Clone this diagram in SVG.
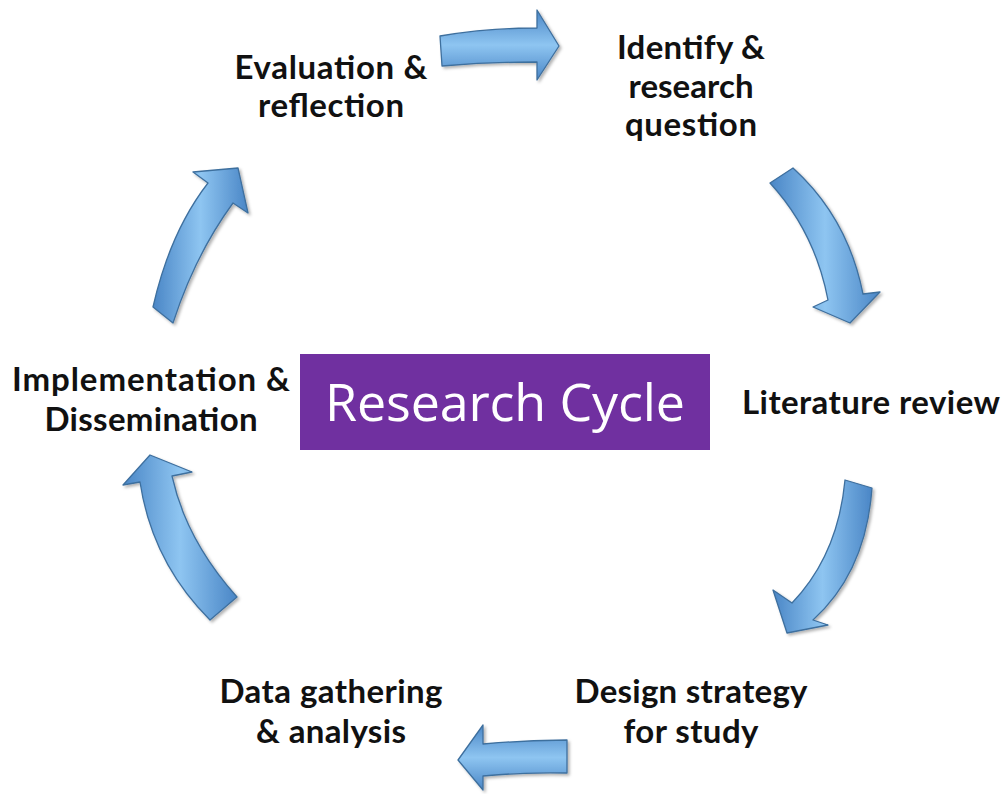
<svg xmlns="http://www.w3.org/2000/svg" width="1004" height="794" viewBox="0 0 1004 794">
<style>
.lbl{font-family:Lato,"Liberation Sans",sans-serif;font-weight:bold;font-size:33px;fill:#111;text-anchor:middle}
.arr{stroke:#3E6F9E;stroke-width:1.3;stroke-linejoin:round}
.title{font-family:"Open Sans","Liberation Sans",sans-serif;font-size:52px;fill:#fff;text-anchor:middle}
</style>
<defs>
<linearGradient id="gH" x1="0" y1="0" x2="1" y2="0">
<stop offset="0" stop-color="#4A86C6"/><stop offset="0.5" stop-color="#8EC5F1"/><stop offset="1" stop-color="#4A86C6"/>
</linearGradient>
<linearGradient id="gV" x1="0" y1="0" x2="0" y2="1">
<stop offset="0" stop-color="#4A86C6"/><stop offset="0.5" stop-color="#8EC5F1"/><stop offset="1" stop-color="#4A86C6"/>
</linearGradient>
<filter id="sh" x="-20%" y="-20%" width="140%" height="140%">
<feDropShadow dx="2" dy="2" stdDeviation="1.5" flood-color="#000" flood-opacity="0.3"/>
</filter>
</defs>
<rect width="1004" height="794" fill="#fff"/>
<g id="connectors" filter="url(#sh)">
<path class="arr" fill="url(#gV)" d="M440,36 Q488,28 537,28 L537,10 L559,46 L537,80 L537,62 Q488,62 442,66 Z"/>
<path class="arr" fill="url(#gH)" d="M770,183 L793,168 Q848,218 863,294 L880,292 L850,323 L813,307 L828,300 Q815,232 770,183 Z"/>
<path class="arr" fill="url(#gH)" d="M845,480 L872,488 Q866,572 813,620 L828,625 L787,633 L773,590 L792,603 Q838,555 845,480 Z"/>
<path class="arr" fill="url(#gV)" d="M567,740 Q525,740 483,744 L483,725 L458,760 L483,790 L483,776 Q525,772 567,773 Z"/>
<path class="arr" fill="url(#gH)" d="M210,620 Q152,562 140,482 L123,485 L150,455 L192,472 L172,476 Q186,540 237,597 Z"/>
<path class="arr" fill="url(#gH)" d="M153,307 Q170,232 208,183 L193,172 L238,168 L248,213 L233,203 Q195,255 173,323 Z"/>
</g>
<g id="center">
<rect x="300" y="354" width="410" height="96" fill="#7030A0"/>
<text class="title" x="505" y="421" textLength="360">Research Cycle</text>
</g>
<g id="n-evaluation">
<text class="lbl" x="331" y="79" textLength="193">Evaluation &amp;</text>
<text class="lbl" x="331" y="117" textLength="146">reflection</text>
</g>
<g id="n-identify">
<text class="lbl" x="691" y="59" textLength="148">Identify &amp;</text>
<text class="lbl" x="691" y="98" textLength="125">research</text>
<text class="lbl" x="691" y="136" textLength="132">question</text>
</g>
<g id="n-literature">
<text class="lbl" x="871" y="414" textLength="258">Literature review</text>
</g>
<g id="n-design">
<text class="lbl" x="691" y="703" textLength="233">Design strategy</text>
<text class="lbl" x="691" y="743" textLength="135">for study</text>
</g>
<g id="n-data">
<text class="lbl" x="331" y="703" textLength="223">Data gathering</text>
<text class="lbl" x="331" y="743" textLength="150">&amp; analysis</text>
</g>
<g id="n-implementation">
<text class="lbl" x="151" y="391" textLength="278">Implementation &amp;</text>
<text class="lbl" x="151" y="431" textLength="213">Dissemination</text>
</g>
</svg>
